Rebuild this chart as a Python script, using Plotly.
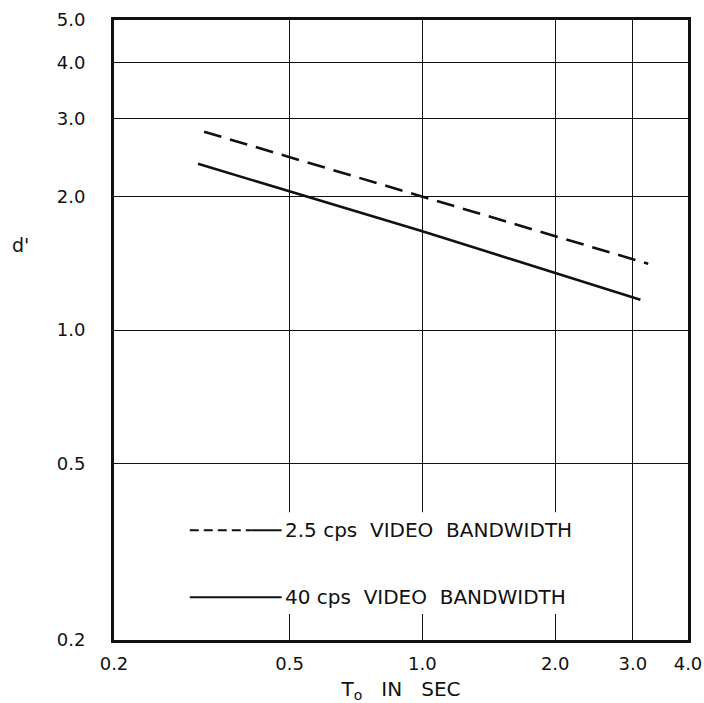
import plotly.graph_objects as go

# Data (log-log)
t_dashed = [0.32, 1.0, 3.25]
d_dashed = [2.80, 2.0, 1.41]
t_solid = [0.31, 1.0, 3.12]
d_solid = [2.37, 1.67, 1.17]

x_ticks = [0.2, 0.5, 1.0, 2.0, 3.0, 4.0]
x_ticktext = ["0.2", "0.5", "1.0", "2.0", "3.0", "4.0"]
y_ticks = [0.2, 0.5, 1.0, 2.0, 3.0, 4.0, 5.0]
y_ticktext = ["0.2", "0.5", "1.0", "2.0", "3.0", "4.0", "5.0"]

legend_labels = ["2.5 cps  VIDEO  BANDWIDTH", "40 cps  VIDEO  BANDWIDTH"]

FONT = "DejaVu Sans"
INK = "#111111"

fig = go.Figure()
fig.add_trace(go.Scatter(x=t_dashed, y=d_dashed, mode="lines",
                         line=dict(color=INK, width=2.6, dash="18px,9px"),
                         showlegend=False, hoverinfo="skip"))
fig.add_trace(go.Scatter(x=t_solid, y=d_solid, mode="lines",
                         line=dict(color=INK, width=2.6),
                         showlegend=False, hoverinfo="skip"))

shapes = [
    # white box hiding grid behind the legend text
    dict(type="rect", xref="paper", yref="paper", x0=0.127, x1=0.851, y0=0.042, y1=0.206,
         fillcolor="white", line=dict(width=0), layer="above"),
    # dashed legend sample
    dict(type="line", xref="paper", yref="paper", x0=0.132, x1=0.240, y0=0.177, y1=0.177,
         line=dict(color=INK, width=2, dash="9px,5px"), layer="above"),
    dict(type="line", xref="paper", yref="paper", x0=0.240, x1=0.292, y0=0.177, y1=0.177,
         line=dict(color=INK, width=2), layer="above"),
    # solid legend sample
    dict(type="line", xref="paper", yref="paper", x0=0.132, x1=0.292, y0=0.069, y1=0.069,
         line=dict(color=INK, width=2), layer="above"),
]

annotations = [
    dict(text=legend_labels[0], xref="paper", yref="paper", x=0.294, y=0.177,
         xanchor="left", yanchor="middle", showarrow=False,
         font=dict(family=FONT, size=20, color=INK)),
    dict(text=legend_labels[1], xref="paper", yref="paper", x=0.294, y=0.069,
         xanchor="left", yanchor="middle", showarrow=False,
         font=dict(family=FONT, size=20, color=INK)),
    dict(text="d'", xref="paper", yref="paper", x=-0.163, y=0.637,
         xanchor="center", yanchor="middle", showarrow=False,
         font=dict(family=FONT, size=19, color=INK)),
]

fig.update_layout(
    width=704, height=703,
    margin=dict(l=114, r=16, t=20, b=63),
    paper_bgcolor="white", plot_bgcolor="white",
    shapes=shapes, annotations=annotations,
    font=dict(family=FONT, size=18, color=INK),
)
fig.update_xaxes(type="log", range=[-0.69897, 0.60206], automargin=False,
                 tickvals=x_ticks, ticktext=x_ticktext,
                 showgrid=True, gridcolor=INK, gridwidth=1.4,
                 showline=True, linecolor=INK, linewidth=3, mirror=True,
                 ticks="", ticklabelstandoff=5, zeroline=False,
                 title=dict(text="T<sub>o</sub>   IN   SEC", standoff=12,
                            font=dict(family=FONT, size=20, color=INK)))
fig.update_yaxes(type="log", range=[-0.69897, 0.69897], automargin=False,
                 tickvals=y_ticks, ticktext=y_ticktext,
                 showgrid=True, gridcolor=INK, gridwidth=1.4,
                 showline=True, linecolor=INK, linewidth=3, mirror=True,
                 ticks="", ticklabelstandoff=22, zeroline=False)

fig.write_html("out.html")
